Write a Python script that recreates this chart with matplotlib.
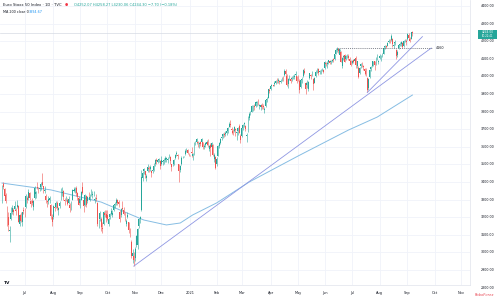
import matplotlib
matplotlib.use("Agg")
import matplotlib.pyplot as plt
import matplotlib.transforms as mtransforms
from matplotlib.patches import Rectangle
import numpy as np
import pandas as pd

# ---------------- data (daily bars, Euro Stoxx 50) ----------------
start_date = "2020-06-05"

opens = [
    3290,3390,3360,3325,3260,3200,3120,3190,3230,3240,3245,3240,3260,3265,3160,3210,3170,3240,
    3230,3260,3310,3310,3340,3290,3290,3260,3310,3330,3370,3360,3360,3370,3400,3375,3350,3320,3290,3290,3300,3270,3200,
    3200,3260,3260,3280,3240,3265,3300,3340,3350,3300,3300,3300,3280,3270,3260,3300,3350,3350,3365,3340,3310,
    3280,3300,3370,3300,3270,3320,3290,3320,3300,3330,3325,3335,3300,3310,3280,3170,3190,3190,3140,3160,3225,3220,
    3210,3160,3200,3220,3215,3240,3270,3280,3295,3285,3230,3210,3250,3240,3220,3160,3200,3170,3120,3060,2980,2980,
    2970,3040,3040,3150,3190,3240,3420,3460,3460,3420,3460,3480,3475,3460,3460,3470,3500,3525,3515,3525,3520,
    3500,3515,3520,3525,3530,3525,3545,3540,3500,3495,3505,3535,3560,3555,3500,3470,3500,3540,3544,3560,3580,3580,3555,
    3553,3570,3545,3565,3620,3630,3630,3615,3625,3625,3625,3600,3610,3615,3630,3590,3610,3600,3610,3530,3540,
    3500,3550,3605,3620,3650,3660,3675,3670,3680,3690,3715,3730,3700,3690,3690,3700,3680,3690,3720,3660,
    3660,3705,3730,3720,3660,3690,3765,3790,3800,3820,3830,3830,3850,3860,3830,3825,3840,3830,3810,3830,3865,3880,3925,
    3930,3946,3947,3955,3960,3980,3975,3975,3970,3985,3990,4010,4030,4005,3955,3995,3985,3985,3995,3995,4010,4000,
    3985,3975,3940,3980,4000,4030,3960,3950,3930,3990,4010,4005,3985,3965,4000,4030,4040,4025,4030,4035,4035,
    4045,4075,4070,4080,4090,4080,4090,4095,4100,4130,4150,4155,4120,4140,4060,4110,4120,4100,4115,4115,4100,4085,
    4075,4095,4090,4105,4060,4050,4020,4060,4070,4060,4040,4030,3990,3935,3995,4040,4060,4080,4085,4070,4110,4080,
    4105,4110,4120,4130,4165,4170,4175,4195,4200,4205,4215,4175,4190,4150,4120,4160,4180,4185,4190,4175,4205,4200,
    4210,4235,4215,4215,4252,
]
highs = [
    3385,3400,3365,3335,3265,3230,3150,3260,3270,3250,3290,3250,3300,3270,3220,3230,3230,3260,
    3250,3330,3320,3360,3345,3300,3310,3300,3380,3350,3400,3370,3380,3400,3450,3380,3375,3330,3300,3320,3320,3275,3220,
    3270,3270,3290,3290,3260,3290,3365,3370,3355,3310,3320,3310,3320,3280,3290,3360,3370,3370,3380,3345,3320,
    3310,3350,3400,3310,3330,3325,3320,3345,3330,3360,3350,3350,3315,3330,3285,3190,3235,3200,3170,3235,3240,3240,
    3240,3200,3225,3250,3240,3275,3285,3310,3305,3300,3240,3255,3290,3260,3230,3190,3230,3175,3140,3070,3020,3000,
    3030,3100,3140,3195,3205,3470,3460,3480,3465,3445,3500,3490,3495,3470,3480,3510,3530,3535,3530,3535,3525,
    3545,3525,3535,3545,3540,3540,3560,3550,3505,3525,3530,3560,3575,3560,3505,3495,3545,3550,3546,3585,3595,3590,3565,
    3555,3600,3565,3625,3635,3650,3635,3630,3635,3650,3630,3615,3630,3640,3645,3610,3620,3630,3615,3565,3545,
    3540,3610,3630,3650,3670,3680,3685,3690,3695,3710,3740,3750,3710,3700,3720,3705,3690,3710,3730,3670,
    3715,3730,3740,3725,3680,3775,3800,3805,3840,3835,3845,3860,3860,3870,3845,3845,3850,3845,3825,3870,3885,3930,3935,
    3955,3948,3949,3975,3980,3990,3990,3980,3985,3995,4000,4040,4040,4015,3990,4010,3995,4000,4010,4015,4030,4005,
    4010,3985,3985,3995,4040,4045,3970,3980,3975,4020,4015,4030,3990,3995,4035,4050,4045,4035,4040,4050,4040,
    4090,4080,4085,4095,4095,4095,4100,4105,4130,4160,4165,4160,4155,4145,4110,4120,4125,4120,4125,4125,4110,4095,
    4095,4100,4105,4115,4090,4060,4055,4075,4080,4065,4045,4050,3995,3990,4040,4060,4090,4090,4090,4110,4125,4095,
    4125,4120,4135,4170,4180,4180,4195,4210,4210,4240,4220,4195,4205,4155,4150,4185,4195,4200,4195,4205,4215,4210,
    4245,4245,4225,4255,4258,
]
lows = [
    3280,3360,3310,3280,3150,3120,3060,3185,3220,3210,3240,3210,3250,3170,3150,3170,3150,3220,
    3200,3255,3280,3300,3300,3260,3270,3240,3305,3310,3360,3340,3350,3355,3375,3340,3340,3280,3260,3275,3280,3190,3150,
    3190,3235,3255,3240,3215,3250,3295,3320,3300,3270,3290,3270,3275,3230,3240,3300,3345,3340,3320,3300,3270,
    3250,3295,3330,3230,3265,3260,3280,3310,3290,3320,3310,3320,3280,3290,3150,3140,3180,3120,3110,3155,3200,3170,
    3185,3150,3190,3210,3200,3235,3255,3270,3270,3260,3170,3200,3240,3210,3180,3150,3195,3110,3090,2970,2940,2922,
    2950,3030,3020,3140,3165,3235,3405,3445,3420,3405,3455,3455,3465,3430,3450,3460,3490,3505,3510,3515,3475,
    3495,3495,3505,3515,3515,3510,3535,3505,3465,3490,3495,3530,3550,3530,3400,3455,3495,3535,3542,3555,3570,3560,3545,
    3550,3540,3525,3555,3610,3615,3600,3595,3605,3615,3585,3590,3600,3610,3600,3575,3550,3595,3545,3515,3475,
    3490,3545,3595,3615,3640,3650,3655,3660,3665,3680,3710,3715,3675,3665,3685,3660,3640,3665,3680,3620,
    3655,3695,3715,3690,3630,3685,3755,3780,3795,3805,3810,3825,3830,3835,3815,3810,3815,3815,3790,3825,3855,3875,3905,
    3925,3944,3945,3945,3955,3965,3965,3955,3960,3975,3975,4005,4005,3945,3935,3980,3960,3975,3985,3985,4000,3960,
    3975,3905,3935,3960,3995,4015,3900,3935,3915,3985,3985,4000,3925,3960,3995,4020,4010,4015,4015,4030,4020,
    4040,4060,4050,4070,4070,4070,4080,4080,4095,4125,4140,4135,4110,4080,4050,4095,4080,4095,4105,4095,4080,4060,
    4070,4075,4085,4050,4050,3990,4015,4050,4055,4035,4010,4005,3910,3925,3990,4030,4055,4060,4035,4065,4095,4070,
    4100,4085,4110,4125,4155,4160,4170,4190,4190,4200,4165,4160,4180,4100,4110,4155,4170,4175,4160,4165,4195,4180,
    4205,4210,4195,4210,4230,
]
closes = [
    3384,3371,3319,3290,3157,3153,3130,3225,3253,3230,3264,3237,3271,3175,3213,3179,3227,3234,
    3228,3320,3297,3344,3307,3273,3278,3293,3365,3343,3366,3358,3366,3389,3384,3358,3355,3298,3285,3306,3309,3207,3174,
    3266,3251,3280,3252,3252,3283,3359,3340,3316,3292,3303,3276,3303,3250,3283,3352,3356,3360,3340,3314,3272,
    3301,3343,3337,3261,3328,3268,3313,3318,3316,3330,3330,3338,3306,3306,3164,3174,3224,3144,3135,3229,3210,3194,
    3192,3190,3216,3238,3226,3269,3273,3299,3282,3275,3192,3245,3249,3217,3183,3181,3214,3128,3104,2977,2995,2958,
    3021,3093,3131,3190,3199,3426,3451,3474,3439,3432,3483,3472,3483,3452,3468,3489,3523,3520,3526,3527,3492,
    3525,3517,3525,3539,3536,3532,3548,3517,3483,3498,3526,3553,3565,3547,3460,3489,3538,3544,3545,3575,3583,3564,3553,
    3552,3565,3558,3611,3622,3645,3620,3622,3618,3642,3599,3605,3621,3630,3611,3602,3593,3620,3553,3556,3481,
    3531,3602,3621,3645,3655,3672,3669,3676,3689,3706,3732,3722,3697,3678,3713,3697,3680,3707,3681,3636,
    3707,3722,3731,3701,3669,3767,3786,3794,3832,3831,3828,3853,3850,3840,3837,3835,3827,3826,3813,3867,3873,3926,3919,
    3946,3947,3946,3961,3975,3979,3979,3969,3976,3987,3989,4032,4013,3950,3986,3997,3975,3993,3995,4002,4014,3974,
    3984,3925,3979,3987,4035,4022,3927,3965,3971,4017,4001,4022,3954,3989,4026,4043,4018,4026,4030,4039,4027,
    4079,4072,4075,4093,4078,4087,4096,4094,4127,4152,4157,4142,4153,4083,4106,4114,4082,4116,4118,4104,4088,4064,
    4086,4084,4100,4064,4087,3999,4049,4068,4069,4055,4028,4015,3924,3986,4036,4054,4087,4081,4064,4108,4113,4089,
    4117,4116,4121,4164,4175,4169,4192,4203,4199,4228,4182,4181,4194,4118,4140,4178,4185,4194,4166,4202,4205,4196,
    4239,4220,4202,4250,4244,
]

# 200-day moving average, read at a few dates
ma_dates = ["2020-06-05", "2020-07-30", "2020-09-24", "2020-11-11", "2020-12-07", "2020-12-22",
            "2021-01-05", "2021-02-01", "2021-03-09", "2021-05-03", "2021-06-28", "2021-07-29", "2021-09-07"]
ma_values = [3394, 3355, 3286, 3184, 3156, 3167, 3213, 3281, 3400, 3548, 3695, 3769, 3894]

# drawn trend lines (date, price)
trend_a_dates = ["2020-10-30", "2021-09-28"]
trend_a_prices = [2922, 4161]
trend_b_dates = ["2021-07-19", "2021-09-17"]
trend_b_prices = [3908, 4226]
level_dates = ["2021-06-15", "2021-09-29"]
level_price = 4160
level_label = "4160"

price_ticks = list(range(2800, 4401, 100))
month_starts = pd.date_range("2020-07-01", "2021-11-01", freq="MS")

title_text = "Euro Stoxx 50 Index · 1D · TVC"
ohlc_text = "O4252.07 H4258.27 L4230.06 C4244.30 −7.70 (−0.18%)"
ma_label = "MA 200 close 0"
ma_value_text = "3894.67"

# ---------------- layout ----------------
n = len(closes)
if not (len(opens) == len(highs) == len(lows) == n):
    raise SystemExit(f"length mismatch {len(opens)} {len(highs)} {len(lows)} {n}")

W, H = 500, 300
fig = plt.figure(figsize=(W / 100, H / 100), dpi=100)
fig.patch.set_facecolor("white")

ax_left, ax_right, ax_top, ax_bottom = 0, 470, 0, 285
ax = fig.add_axes([ax_left / W, 1 - ax_bottom / H, (ax_right - ax_left) / W, (ax_bottom - ax_top) / H])
ax.set_facecolor("white")

full_index = pd.bdate_range(start_date, "2021-12-31")
def pos(dates):
    return full_index.get_indexer(pd.to_datetime(dates))

px_per_bar = 1.255
x0_px = 2.0
ax.set_xlim(-x0_px / px_per_bar, (ax_right - x0_px) / px_per_bar)
# price <-> pixel: 100 points per 17.6 px, 2900 at y=270
def y_to_price(y):
    return 2900 + (270 - y) / 0.176
ax.set_ylim(y_to_price(ax_bottom), y_to_price(ax_top))

# grid
grid_c = "#f0f3fa"
tick_pos = []
tick_lab = []
for d in month_starts:
    i = full_index.searchsorted(d)
    tick_pos.append(i)
    tick_lab.append("2021" if d.month == 1 else d.strftime("%b"))
for p in tick_pos:
    ax.axvline(p, color=grid_c, lw=0.6, zorder=0)
for p in price_ticks:
    ax.axhline(p, color=grid_c, lw=0.6, zorder=0)

# moving average
ax.plot(pos(ma_dates), ma_values, color="#86bde3", lw=0.7, zorder=2)

# candles
x = np.arange(n)
o = np.array(opens, float); c = np.array(closes, float)
h = np.array(highs, float); l = np.array(lows, float)
up = c >= o
cols = np.where(up, "#26a69a", "#ef5350")
ax.vlines(x, l, h, colors=cols, lw=0.4, zorder=3)
body = np.maximum(np.abs(c - o), 3)
ax.bar(x, body, bottom=np.minimum(o, c), width=0.75, color=cols, linewidth=0, zorder=4)

# last price line
ax.axhline(closes[-1], color="#d6dbe3", lw=0.5, zorder=1)

# trend lines
ax.plot(pos(trend_a_dates), trend_a_prices, color="#8f97e3", lw=0.6, zorder=5)
ax.plot(pos(trend_b_dates), trend_b_prices, color="#8f97e3", lw=0.6, zorder=5)
lp = pos(level_dates)
ax.plot(lp, [level_price, level_price], color="#555a66", lw=0.5, ls=(0, (1.5, 1.5)), zorder=5)
ax.text(lp[1] + 3, level_price, level_label, fontsize=2.4, color="#131722", va="center", ha="left")

# axes styling
for s in ["top", "left"]:
    ax.spines[s].set_visible(False)
ax.spines["right"].set_color("#e0e3eb"); ax.spines["right"].set_linewidth(0.5)
ax.spines["bottom"].set_color("#e0e3eb"); ax.spines["bottom"].set_linewidth(0.5)
ax.set_yticks([])
ax.set_xticks(tick_pos)
ax.set_xticklabels(tick_lab)
ax.tick_params(axis="x", length=0, pad=4.2, labelsize=2.5, colors="#131722")

# price labels on the right
trans = mtransforms.blended_transform_factory(ax.transAxes, ax.transData)
for p in price_ticks:
    ax.text(481 / 470, p, f"{p:.2f}", transform=trans, fontsize=2.3, color="#131722",
            ha="left", va="center", clip_on=False)

# current price box
fig.patches.append(Rectangle((478 / W, 1 - 39 / H), 19 / W, 9 / H, transform=fig.transFigure,
                             facecolor="#26a69a", edgecolor="none", zorder=10))
fig.text(487.5 / W, 1 - 32.2 / H, f"{closes[-1]:.2f}", fontsize=2.1, color="white",
         ha="center", va="center", zorder=11)
fig.text(487.5 / W, 1 - 36.4 / H, "10:22:41", fontsize=1.9, color="white",
         ha="center", va="center", zorder=11)

# header
fig.text(3 / W, 1 - 5 / H, title_text, fontsize=2.7, color="#131722", ha="left", va="center")
fig.text(66 / W, 1 - 5 / H, "●", fontsize=2.6, color="#f23645", ha="center", va="center")
fig.text(74 / W, 1 - 5 / H, ohlc_text, fontsize=2.6, color="#26a69a", ha="left", va="center")
fig.text(3 / W, 1 - 12 / H, ma_label, fontsize=2.4, color="#131722", ha="left", va="center")
fig.text(29 / W, 1 - 12 / H, ma_value_text, fontsize=2.4, color="#2196f3", ha="left", va="center")

# logo & watermark
fig.text(4 / W, 1 - 283 / H, "TV", fontsize=3.2, fontweight="bold", color="#131722", ha="left", va="center")
fig.text(485 / W, 1 - 294.5 / H, "RoboForex", fontsize=2.6, color="#e8424f", ha="center", va="center",
         style="italic")

fig.savefig("out.png", dpi=100, facecolor="white")
